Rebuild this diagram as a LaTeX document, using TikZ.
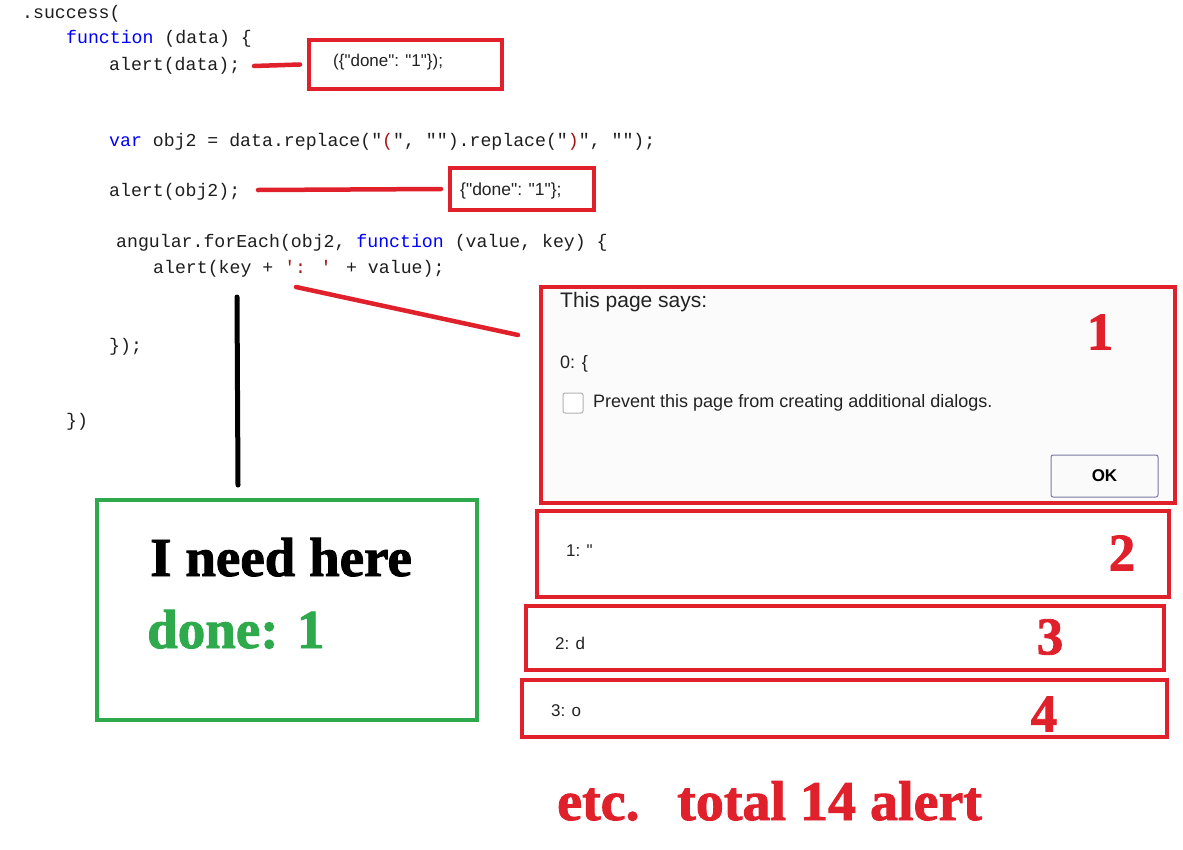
\documentclass[tikz,border=0pt]{standalone}
\usepackage{fontspec}
\setmainfont{Liberation Serif}[BoldFont={Liberation Serif Bold}]
\newfontfamily\bigfont{Liberation Serif Bold}[FakeBold=1.6]
\newfontfamily\codefont{Liberation Mono}
\newfontfamily\uifont{Liberation Sans}[BoldFont={Liberation Sans Bold}]
\definecolor{ann}{HTML}{E0202A}
\definecolor{grn}{HTML}{2EAA4C}
\definecolor{kw}{HTML}{0000FF}
\definecolor{str}{HTML}{A31515}
\definecolor{codec}{HTML}{1E1E1E}
\definecolor{uitext}{HTML}{222222}
\begin{document}
\begin{tikzpicture}[x=1pt,y=-1pt,
  code/.style={anchor=base west, inner sep=0, font=\codefont\fontsize{18.2}{20}\selectfont, text=codec},
  redbox/.style={draw=ann, line width=4pt, inner sep=0},
  grnbox/.style={draw=grn, line width=4pt, inner sep=0},
  redline/.style={draw=ann, line width=4.5pt, line cap=round},
  blackline/.style={draw=black, line width=5pt, line cap=round},
  ui/.style={anchor=west, inner sep=0, text=uitext, font=\uifont\fontsize{#1}{#1}\selectfont},
  bignum/.style={inner sep=0, text=ann, font=\bigfont\fontsize{53}{53}\selectfont},
  bigtxt/.style={anchor=base west, inner sep=0, font=\bigfont\fontsize{#1}{#1}\selectfont}]
\useasboundingbox[fill=white] (0,0) rectangle (1183,849);

% code
\node[code] (c1) at (22,18) {.success(};
\node[code] (c2) at (66,43) {\textcolor{kw}{function} (data) \{};
\node[code] (c3) at (109,70) {alert(data);};
\node[code] (c4) at (109,146) {\textcolor{kw}{var} obj2 = data.replace("\textcolor{str}{(}", "").replace("\textcolor{str}{)}", "");};
\node[code] (c5) at (109,196) {alert(obj2);};
\node[code] (c6) at (116,247) {angular.forEach(obj2, \textcolor{kw}{function} (value, key) \{};
\node[code] (c7) at (153,273) {alert(key + \textcolor{str}{': '} + value);};
\node[code] (c8) at (109,351) {\});};
\node[code] (c9) at (66,426) {\})};

% output boxes at top
\node[redbox, minimum width=193, minimum height=49] (b1) at (405.5,64.5) {};
\node[ui=17] (t1) at (333,62) {(\{"done": "1"\});};
\node[redbox, minimum width=144, minimum height=42] (b2) at (522,189) {};
\node[ui=17.5] (t2) at (460,191) {\{"done": "1"\};};

% dialog 1
\node[redbox, fill=white!97!gray, minimum width=634, minimum height=216] (d1) at (858,395) {};
\node[ui=21] (d1a) at (560,302) {This page says:};
\node[ui=18] (d1b) at (560,364) {0: \{};
\node[draw=gray!60, fill=white, rounded corners=2pt, line width=1pt, minimum width=20, minimum height=20, inner sep=0] (chk) at (573,403) {};
\node[ui=18] (d1c) at (593,403) {Prevent this page from creating additional dialogs.};
\node[draw=black!40!blue!30!gray!80, fill=white!96!gray, rounded corners=2pt, line width=1pt, minimum width=107, minimum height=42, inner sep=0, font=\uifont\bfseries\fontsize{17}{17}\selectfont] (ok) at (1104.5,476) {OK};
\node[bignum] (n1) at (1100,332) {1};

% dialogs 2-4
\node[redbox, minimum width=632, minimum height=86] (d2) at (853,554) {};
\node[ui=17] (d2a) at (566,551) {1: "};
\node[bignum] (n2) at (1122,553) {2};
\node[redbox, minimum width=638, minimum height=64] (d3) at (845,638) {};
\node[ui=17] (d3a) at (555,643) {2: d};
\node[bignum] (n3) at (1050,637) {3};
\node[redbox, minimum width=645, minimum height=57] (d4) at (844.5,708.5) {};
\node[ui=17] (d4a) at (551,711) {3: o};
\node[bignum] (n4) at (1044,714) {4};

% green box
\node[grnbox, minimum width=380, minimum height=220] (g) at (287,610) {};
\node[bigtxt=55] (g1) at (150,576) {I need here};
\node[bigtxt=55, text=grn] (g2) at (147,648) {done: 1};

% bottom text
\node[bigtxt=56, text=ann] (e1) at (557,820) {etc.};
\node[bigtxt=56, text=ann] (e2) at (677,820) {total 14 alert};

% connectors
\coordinate (l1s) at (254,66);
\coordinate (l2s) at (258,190);
\coordinate (l3s) at (296,287);
\coordinate (l3e) at (518,335);
\coordinate (v1) at (237,297);
\coordinate (v2) at (238,485);
\draw[redline] (l1s) -- ([xshift=-7pt]b1.west);
\draw[redline] (l2s) -- ([xshift=-7pt]b2.west);
\draw[redline] (l3s) -- (l3e);
\draw[blackline] (v1) -- (v2);
\end{tikzpicture}
\end{document}
